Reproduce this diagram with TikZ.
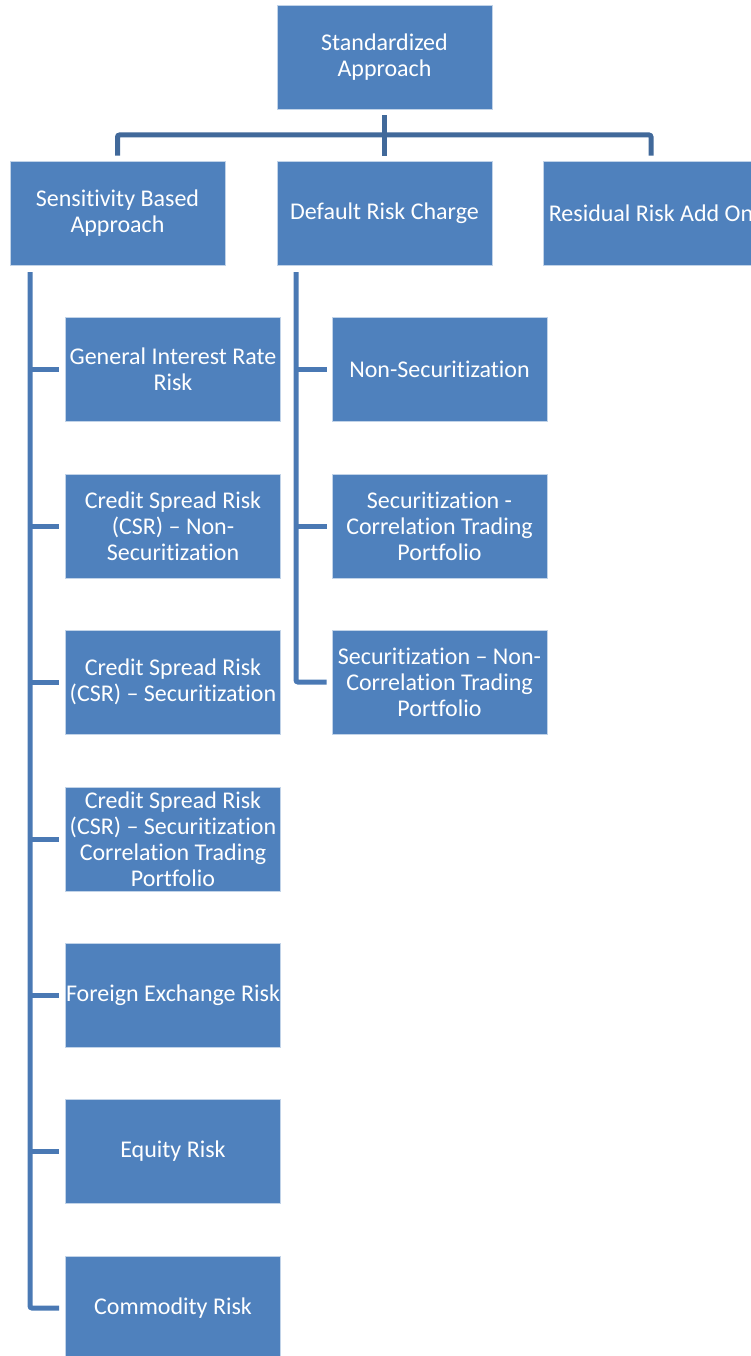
\documentclass[tikz,border=0pt]{standalone}
\usepackage{fontspec}
\setmainfont{Carlito}[Ligatures={NoCommon,NoRare,NoContextual},Contextuals=NoAlternate]
\definecolor{boxc}{HTML}{4F81BD}
\definecolor{topline}{HTML}{41699A}
\definecolor{treeline}{HTML}{4A79B4}
\begin{document}
\begin{tikzpicture}[x=1pt,y=-1pt,
  box/.style={fill=boxc, draw=white!65!boxc, line width=0.8pt,
    minimum width=215pt, minimum height=104pt, inner sep=0pt,
    align=center, text=white,
    font=\fontsize{24}{26}\selectfont},
  topconn/.style={draw=topline, line width=5pt, rounded corners=2pt},
  treeconn/.style={draw=treeline, line width=5pt, rounded corners=2pt}]
\useasboundingbox (0,0) rectangle (751,1356);

\node[box] (top) at (384.5,57.5) {Standardized\\Approach};

\node[box] (sba) at (117.5,213) {Sensitivity Based\\Approach};
\node[box] (drc) at (384.5,213) {Default Risk Charge};
\node[box] (rra) at (651,213) {Residual Risk Add On};

\node[box] (c1) at (173,369.5) {General Interest Rate\\Risk};
\node[box] (c2) at (173,526) {Credit Spread Risk\\(CSR) – Non-\\Securitization};
\node[box] (c3) at (173,682) {Credit Spread Risk\\(CSR) – Securitization};
\node[box] (c4) at (173,839) {Credit Spread Risk\\(CSR) – Securitization\\Correlation Trading\\Portfolio};
\node[box] (c5) at (173,995) {Foreign Exchange Risk};
\node[box] (c6) at (173,1151) {Equity Risk};
\node[box] (c7) at (173,1308) {Commodity Risk};

\node[box] (d1) at (439.5,369.5) {Non-Securitization};
\node[box] (d2) at (439.5,526) {Securitization -\\Correlation Trading\\Portfolio};
\node[box] (d3) at (439.5,682) {Securitization – Non-\\Correlation Trading\\Portfolio};

% top connectors
\coordinate (bar) at (384.5,135);
\draw[topconn] ([yshift=5pt]sba.north) |- (bar) -| ([yshift=5pt]rra.north);
\draw[topconn] ([yshift=-5.5pt]top.south) -- ([yshift=5pt]drc.north);

% sensitivity tree
\coordinate (strunk) at (30,272);
\draw[treeconn] (strunk) |- ([xshift=-6pt]c7.west);
\foreach \c in {c1,c2,c3,c4,c5,c6}
  \draw[treeconn] (\c.west -| strunk) -- ([xshift=-6pt]\c.west);

% default risk tree
\coordinate (dtrunk) at (296,272);
\draw[treeconn] (dtrunk) |- ([xshift=-5pt]d3.west);
\foreach \c in {d1,d2}
  \draw[treeconn] (\c.west -| dtrunk) -- ([xshift=-5pt]\c.west);
\end{tikzpicture}
\end{document}
